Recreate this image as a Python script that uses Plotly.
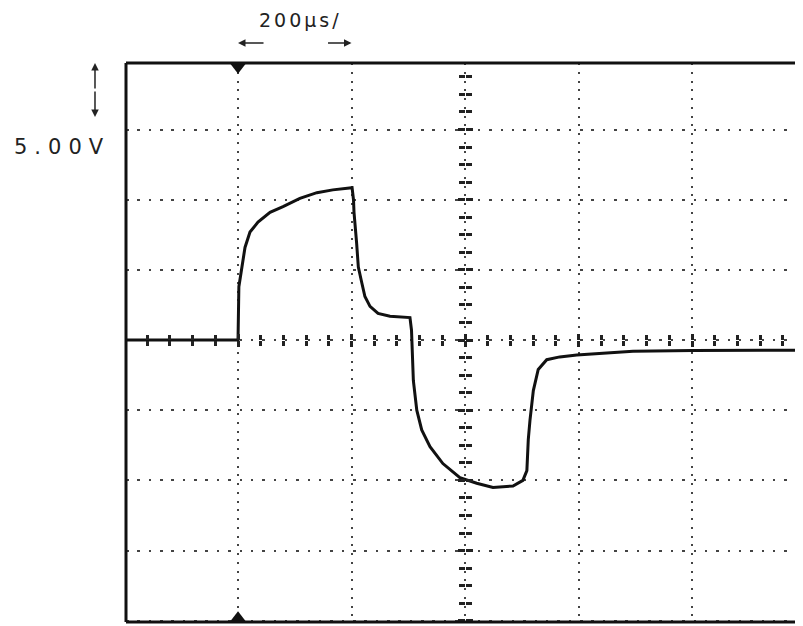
import plotly.graph_objects as go

# Oscilloscope trace (time in microseconds, voltage in volts)
time_us = [-200, 0, 1.5, 8.8, 12.3, 21.1, 35.2, 56.4, 79.3, 109,
           139, 167, 201, 203.5, 204.4, 209, 212, 218, 223.6, 232.6,
           246.7, 267.8, 303, 305.7, 306.6, 309, 315, 323.7, 338.3, 361,
           391, 420.6, 449.3, 484.6, 502, 509, 511.5, 514.5, 520.4, 529,
           544, 567, 597, 696, 802, 1000]
volts = [0, 0, 3.8, 5.7, 6.6, 7.7, 8.4, 9.1, 9.5, 10.1,
         10.5, 10.7, 10.85, 10.0, 9.1, 6.9, 5.2, 4.1, 3.1, 2.4,
         1.9, 1.7, 1.6, 0.7, -0.5, -2.9, -5.0, -6.4, -7.6, -8.8,
         -9.8, -10.2, -10.5, -10.4, -10.0, -9.3, -7.1, -5.7, -3.6, -2.1,
         -1.4, -1.2, -1.07, -0.8, -0.75, -0.72]

trigger_t = [0]
time_per_div = 200      # µs/div
volts_per_div = 5.0     # V/div
center_t = 400
label_time = "200µs/"
label_volt = "5.00V"

x_range = [-197.4, 995.6]
y_range = [-20.09, 19.74]

x_center_pos = (0 - y_range[0]) / (y_range[1] - y_range[0])
y_center_pos = (center_t - x_range[0]) / (x_range[1] - x_range[0])

fig = go.Figure()

fig.add_trace(go.Scatter(x=time_us, y=volts, mode="lines",
                         line=dict(color="#111111", width=3),
                         hoverinfo="skip", showlegend=False))
# invisible companions so the overlay axes (opposite tick direction) render
fig.add_trace(go.Scatter(x=time_us, y=volts, mode="lines", xaxis="x2", yaxis="y",
                         line=dict(color="rgba(0,0,0,0)", width=0),
                         hoverinfo="skip", showlegend=False))
fig.add_trace(go.Scatter(x=time_us, y=volts, mode="lines", xaxis="x", yaxis="y2",
                         line=dict(color="rgba(0,0,0,0)", width=0),
                         hoverinfo="skip", showlegend=False))

# trigger markers on top and bottom border
fig.add_trace(go.Scatter(x=trigger_t, y=[y_range[1] - 0.3], mode="markers",
                         marker=dict(symbol="triangle-down", size=13, color="#111"),
                         cliponaxis=False, hoverinfo="skip", showlegend=False))
fig.add_trace(go.Scatter(x=trigger_t, y=[y_range[0] + 0.3], mode="markers",
                         marker=dict(symbol="triangle-up", size=13, color="#111"),
                         cliponaxis=False, hoverinfo="skip", showlegend=False))

tick_col = "#222222"
grid_col = "#444444"

common_x = dict(range=x_range, showline=False, zeroline=False, showticklabels=False,
                fixedrange=True)
common_y = dict(range=y_range, showline=False, zeroline=False, showticklabels=False,
                fixedrange=True)

fig.update_layout(
    width=795, height=618,
    margin=dict(l=118, r=0, t=55, b=4),
    paper_bgcolor="white", plot_bgcolor="white",
    xaxis=dict(**common_x, anchor="free", position=x_center_pos,
               tick0=0, dtick=time_per_div, showgrid=True, gridcolor=grid_col,
               gridwidth=2, griddash="2px,6.75px",
               ticks="outside", ticklen=6, tickwidth=2.5, tickcolor=tick_col,
               minor=dict(tick0=0, dtick=time_per_div / 5, ticks="outside",
                          ticklen=5, tickwidth=2.5, tickcolor=tick_col, showgrid=False)),
    xaxis2=dict(**common_x, overlaying="x", anchor="free", position=x_center_pos,
                tick0=0, dtick=time_per_div, showgrid=False,
                ticks="inside", ticklen=6, tickwidth=2.5, tickcolor=tick_col,
                minor=dict(tick0=0, dtick=time_per_div / 5, ticks="inside",
                           ticklen=5, tickwidth=2.5, tickcolor=tick_col, showgrid=False)),
    yaxis=dict(**common_y, anchor="free", position=y_center_pos,
               tick0=0, dtick=volts_per_div, showgrid=True, gridcolor=grid_col,
               gridwidth=2, griddash="2.5px,8.85px",
               ticks="outside", ticklen=7, tickwidth=2.5, tickcolor=tick_col,
               minor=dict(tick0=0, dtick=volts_per_div / 4, ticks="outside",
                          ticklen=6, tickwidth=2.5, tickcolor=tick_col, showgrid=False)),
    yaxis2=dict(**common_y, overlaying="y", anchor="free", position=y_center_pos,
                tick0=0, dtick=volts_per_div, showgrid=False,
                ticks="inside", ticklen=7, tickwidth=2.5, tickcolor=tick_col,
                minor=dict(tick0=0, dtick=volts_per_div / 4, ticks="inside",
                           ticklen=6, tickwidth=2.5, tickcolor=tick_col, showgrid=False)),
    showlegend=False,
)

# screen frame: left, top, bottom edges
frame = dict(type="line", xref="paper", yref="paper", line=dict(color="#111", width=3))
fig.add_shape(**frame, x0=0, x1=0, y0=0, y1=1)
fig.add_shape(**frame, x0=0, x1=1, y0=1, y1=1)
fig.add_shape(**frame, x0=0, x1=1, y0=0, y1=0)

fig.add_annotation(text=f'<span style="letter-spacing:7px">{label_volt}</span>',
                   xref="paper", yref="paper", x=-0.095, y=0.8497,
                   xanchor="center", yanchor="middle",
                   showarrow=False, font=dict(family="DejaVu Sans", size=21, color="#222"))
fig.add_annotation(text=f'<span style="letter-spacing:3px">{label_time}</span>',
                   xref="paper", yref="paper", x=0.2575, y=1.0769,
                   xanchor="center", yanchor="middle",
                   showarrow=False, font=dict(family="DejaVu Sans", size=19, color="#222"))

arrow = dict(text="", showarrow=True, arrowhead=2, arrowsize=1, arrowwidth=1.5,
             arrowcolor="#222")
# time-per-division arrows
fig.add_annotation(**arrow, xref="x", yref="paper", x=0, y=1.0358, ax=27, ay=0)
fig.add_annotation(**arrow, xref="x", yref="paper", x=time_per_div, y=1.0358, ax=-25, ay=0)
# volts-per-division arrows
fig.add_annotation(**arrow, xref="paper", yref="paper", x=-0.0458, y=1.0, ax=0, ay=27)
fig.add_annotation(**arrow, xref="paper", yref="paper", x=-0.0458, y=0.9034, ax=0, ay=-27)

fig.write_html("out.html")
